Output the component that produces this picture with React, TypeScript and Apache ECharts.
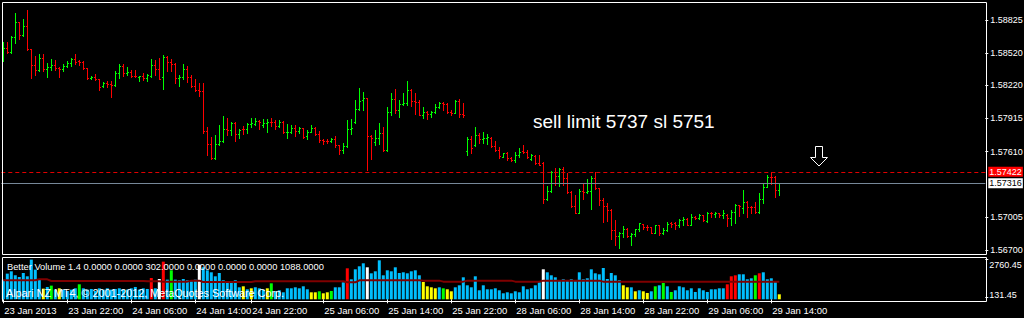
import React, { useEffect, useRef } from 'react';
import * as echarts from 'echarts';

// ---- price bars (M30 OHLC) ----
const opens = [
1.58548,1.58564,1.58527,1.58665,1.58804,1.58687,1.58770,1.58555,1.58409,1.58360,
1.58471,1.58370,1.58394,1.58409,1.58385,1.58370,1.58400,1.58425,1.58465,1.58446,
1.58434,1.58379,1.58287,1.58296,1.58277,1.58215,1.58240,1.58234,1.58225,1.58333,
1.58400,1.58333,1.58348,1.58308,1.58301,1.58305,1.58292,1.58308,1.58407,1.58370,
1.58296,1.58486,1.58437,1.58421,1.58287,1.58301,1.58370,1.58299,1.58215,1.58178,
1.58166,1.57800,1.57677,1.57547,1.57677,1.57710,1.57818,1.57809,1.57871,1.57769,
1.57821,1.57815,1.57864,1.57864,1.57895,1.57855,1.57871,1.57886,1.57880,1.57846,
1.57886,1.57790,1.57793,1.57825,1.57802,1.57830,1.57753,1.57793,1.57825,1.57772,
1.57717,1.57710,1.57705,1.57723,1.57670,1.57621,1.57661,1.57818,1.57883,1.58006,
1.58086,1.58102,1.57753,1.57698,1.57732,1.57781,1.57624,1.57978,1.58093,1.57994,
1.58049,1.58061,1.58176,1.58077,1.58070,1.57948,1.57972,1.57957,1.57975,1.58024,
1.58061,1.58052,1.57978,1.57969,1.58080,1.57954,1.57615,1.57726,1.57670,1.57763,
1.57726,1.57735,1.57735,1.57661,1.57624,1.57559,1.57596,1.57550,1.57532,1.57578,
1.57615,1.57606,1.57538,1.57569,1.57507,1.57501,1.57169,1.57248,1.57424,1.57384,
1.57451,1.57363,1.57236,1.57107,1.57039,1.57248,1.57239,1.57243,1.57363,1.57270,
1.57162,1.57107,1.57070,1.56885,1.56830,1.56860,1.56897,1.56830,1.56848,1.56892,
1.56940,1.56916,1.56910,1.56860,1.56928,1.56860,1.56885,1.56947,1.56947,1.56928,
1.56977,1.56984,1.56934,1.57002,1.56996,1.57021,1.56971,1.57045,1.57033,1.57039,
1.57021,1.57024,1.56996,1.57054,1.57116,1.57086,1.57147,1.57100,1.57095,1.57051,
1.57169,1.57280,1.57377,1.57372,1.57255];
const closes = [
1.58564,1.58532,1.58665,1.58804,1.58687,1.58770,1.58555,1.58409,1.58360,1.58471,
1.58370,1.58394,1.58409,1.58379,1.58370,1.58400,1.58425,1.58465,1.58440,1.58434,
1.58379,1.58287,1.58296,1.58277,1.58209,1.58240,1.58234,1.58225,1.58333,1.58400,
1.58333,1.58348,1.58308,1.58305,1.58305,1.58292,1.58320,1.58407,1.58370,1.58283,
1.58486,1.58437,1.58421,1.58287,1.58301,1.58370,1.58299,1.58215,1.58178,1.58166,
1.57800,1.57677,1.57547,1.57677,1.57710,1.57818,1.57809,1.57871,1.57769,1.57809,
1.57815,1.57864,1.57871,1.57889,1.57880,1.57871,1.57886,1.57880,1.57846,1.57886,
1.57790,1.57793,1.57825,1.57802,1.57830,1.57747,1.57793,1.57825,1.57772,1.57717,
1.57710,1.57705,1.57723,1.57670,1.57621,1.57664,1.57818,1.57830,1.58006,1.58080,
1.58102,1.57753,1.57732,1.57732,1.57781,1.57624,1.57978,1.58093,1.57994,1.58049,
1.58061,1.58176,1.58077,1.58070,1.57948,1.57972,1.57957,1.57975,1.58024,1.58061,
1.58052,1.57978,1.57969,1.58080,1.57954,1.57948,1.57726,1.57643,1.57763,1.57726,
1.57735,1.57740,1.57661,1.57624,1.57569,1.57596,1.57550,1.57532,1.57578,1.57606,
1.57606,1.57559,1.57578,1.57507,1.57486,1.57169,1.57248,1.57424,1.57384,1.57451,
1.57363,1.57236,1.57107,1.57039,1.57248,1.57239,1.57243,1.57363,1.57270,1.57162,
1.57107,1.57070,1.56885,1.56830,1.56860,1.56897,1.56830,1.56848,1.56892,1.56947,
1.56916,1.56910,1.56860,1.56928,1.56860,1.56885,1.56940,1.56940,1.56934,1.56977,
1.56984,1.56934,1.57002,1.56996,1.57021,1.56977,1.57045,1.57039,1.57039,1.57021,
1.57039,1.56996,1.57054,1.57116,1.57107,1.57147,1.57100,1.57095,1.57051,1.57169,
1.57280,1.57377,1.57372,1.57255,1.57316];
const lows = [
1.58449,1.58523,1.58518,1.58610,1.58652,1.58677,1.58548,1.58287,1.58314,1.58357,
1.58357,1.58301,1.58363,1.58363,1.58301,1.58357,1.58394,1.58400,1.58419,1.58409,
1.58370,1.58283,1.58283,1.58271,1.58178,1.58209,1.58203,1.58117,1.58218,1.58289,
1.58308,1.58320,1.58296,1.58296,1.58264,1.58271,1.58264,1.58301,1.58320,1.58277,
1.58191,1.58357,1.58357,1.58246,1.58215,1.58283,1.58252,1.58203,1.58166,1.58123,
1.57784,1.57575,1.57544,1.57544,1.57668,1.57701,1.57766,1.57766,1.57710,1.57735,
1.57772,1.57784,1.57834,1.57858,1.57821,1.57839,1.57793,1.57846,1.57821,1.57834,
1.57784,1.57735,1.57784,1.57753,1.57778,1.57735,1.57726,1.57790,1.57760,1.57701,
1.57680,1.57686,1.57698,1.57649,1.57590,1.57594,1.57655,1.57772,1.57876,1.57994,
1.57994,1.57439,1.57544,1.57670,1.57680,1.57618,1.57618,1.57948,1.57963,1.57932,
1.58037,1.58043,1.58031,1.57957,1.57945,1.57923,1.57913,1.57926,1.57969,1.58009,
1.57996,1.57963,1.57948,1.57963,1.57926,1.57926,1.57578,1.57599,1.57661,1.57692,
1.57686,1.57680,1.57649,1.57615,1.57547,1.57557,1.57532,1.57525,1.57516,1.57562,
1.57594,1.57553,1.57532,1.57495,1.57483,1.57132,1.57162,1.57239,1.57301,1.57294,
1.57301,1.57230,1.57095,1.57039,1.57039,1.57169,1.57230,1.57082,1.57261,1.57113,
1.56962,1.56971,1.56805,1.56746,1.56722,1.56823,1.56823,1.56749,1.56830,1.56873,
1.56892,1.56885,1.56855,1.56855,1.56839,1.56848,1.56879,1.56916,1.56892,1.56916,
1.56931,1.56931,1.56928,1.56989,1.56984,1.56971,1.56962,1.57002,1.57002,1.57002,
1.56996,1.56925,1.56931,1.56952,1.57014,1.57045,1.57002,1.57039,1.57039,1.57039,
1.57137,1.57280,1.57307,1.57193,1.57206];
const highs = [
1.58622,1.58622,1.58677,1.58887,1.58807,1.58832,1.58918,1.58555,1.58493,1.58511,
1.58511,1.58431,1.58462,1.58456,1.58388,1.58419,1.58446,1.58474,1.58511,1.58456,
1.58446,1.58382,1.58308,1.58326,1.58283,1.58255,1.58262,1.58259,1.58357,1.58416,
1.58419,1.58391,1.58363,1.58363,1.58305,1.58333,1.58326,1.58462,1.58456,1.58474,
1.58502,1.58493,1.58462,1.58425,1.58317,1.58419,1.58400,1.58314,1.58277,1.58246,
1.58246,1.57839,1.57747,1.57766,1.57858,1.57938,1.57920,1.57883,1.57883,1.57821,
1.57846,1.57876,1.57920,1.57920,1.57901,1.57911,1.57911,1.57917,1.57901,1.57901,
1.57892,1.57862,1.57855,1.57852,1.57837,1.57830,1.57809,1.57852,1.57839,1.57802,
1.57729,1.57729,1.57735,1.57753,1.57673,1.57686,1.57901,1.57908,1.58086,1.58197,
1.58157,1.58105,1.57760,1.57809,1.57876,1.57839,1.58024,1.58154,1.58185,1.58086,
1.58148,1.58262,1.58185,1.58154,1.58086,1.58019,1.57984,1.57987,1.58049,1.58068,
1.58065,1.58061,1.57994,1.58086,1.58095,1.58061,1.57747,1.57756,1.57839,1.57784,
1.57793,1.57772,1.57747,1.57710,1.57655,1.57599,1.57608,1.57557,1.57608,1.57640,
1.57670,1.57624,1.57587,1.57578,1.57575,1.57516,1.57292,1.57433,1.57461,1.57461,
1.57470,1.57414,1.57248,1.57208,1.57261,1.57317,1.57353,1.57384,1.57421,1.57270,
1.57178,1.57137,1.57076,1.56977,1.56869,1.56922,1.56904,1.56855,1.56892,1.56947,
1.56940,1.56928,1.56910,1.56931,1.56931,1.56904,1.56959,1.56962,1.56959,1.56984,
1.57008,1.56996,1.57033,1.57014,1.57033,1.57021,1.57054,1.57054,1.57054,1.57045,
1.57070,1.57033,1.57070,1.57125,1.57119,1.57255,1.57156,1.57107,1.57141,1.57224,
1.57310,1.57393,1.57421,1.57384,1.57320];

// ---- Better Volume indicator ----
const volumes = [
1357,1771,1932,1656,1541,1817,1587,2737,2047,1357,
736,851,943,667,759,667,575,667,759,1035,
759,667,713,575,759,667,759,667,713,759,
667,667,759,851,667,759,713,1472,759,1403,
2599,1357,2001,1357,1311,1403,1311,1242,1357,2392,
2208,2001,1863,1587,1817,1311,1173,1173,1311,828,
897,690,759,828,759,667,759,1104,552,621,
483,759,759,828,759,897,690,483,483,552,
414,483,575,828,828,1173,2139,1380,2070,2277,
2484,2208,1794,1932,2691,1656,2001,1932,2208,1817,
1863,1794,1932,2001,1656,1196,897,828,759,828,
759,690,552,828,966,1518,966,828,1587,621,
966,690,690,759,621,414,483,414,552,483,
897,690,759,966,1173,2070,1863,1656,1518,1311,
1380,1311,1380,1311,1863,1380,1449,2070,1794,1725,
2162,1403,1817,1656,1311,966,828,828,552,621,
552,437,552,897,966,1127,897,506,621,897,
828,621,759,506,759,621,506,690,690,759,
759,1035,1587,1656,1725,1725,1380,1449,1656,1794,
1863,1380,1449,1242,345];
// b = normal, y = low volume, g = low churn, r = climax, w = churn
const volumeKinds =
  'bbbbbbbbbb' + 'ybgbybbbbg' + 'bbbbbbbbbb' + 'bbbbbbbrbw' + 'rbgbbbbbbw' +
  'bbbbbbbbbb' + 'ybybbbygbb' + 'bbbbbbbyyg' + 'yygbbbrbbb' + 'bwbbbbbbbb' +
  'bbbbbyyyyb' + 'gyybbbbbbb' + 'bbbbbbbbbb' + 'bbbbbwbbbb' + 'bbbbbbbbbb' +
  'bbbbbyybyb' + 'yybgbgbgbb' + 'bbbbbbbbbb' + 'brrrbbbbgr' + 'bbbby';
const volumeAvg = [
1311,1311,1311,1311,1311,1311,1311,1311,1311,1380,
1380,1380,1265,1265,1265,1265,1265,1265,1265,1265,
1265,1265,1265,1265,1265,1265,1265,1265,1265,1265,
1265,1265,1265,1265,1265,1265,1242,1242,1242,1242,
1219,1219,1219,1219,1219,1219,1219,1288,1288,1288,
1196,1196,1196,1196,1196,1196,1196,1196,1196,1196,
1196,1196,1196,1242,1242,1242,1242,1242,1242,1242,
1242,1242,1242,1242,1242,1242,1242,1242,1242,1242,
1242,1242,1242,1242,1242,1242,1173,1173,1173,1311,
1311,1311,1311,1311,1311,1311,1311,1311,1311,1311,
1311,1311,1311,1311,1311,1288,1288,1288,1288,1288,
1219,1219,1219,1219,1219,1219,1288,1288,1288,1288,
1288,1288,1288,1288,1288,1288,1288,1288,1219,1219,
1219,1219,1219,1219,1219,1288,1288,1288,1288,1288,
1288,1288,1288,1288,1288,1288,1288,1288,1288,1288,
1219,1219,1219,1219,1219,1219,1219,1219,1219,1219,
1219,1219,1219,1219,1219,1219,1219,1219,1219,1219,
1219,1219,1219,1219,1219,1219,1219,1219,1219,1219,
1219,1219,1219,1219,1219,1219,1219,1219,1219,1219,
1219,1219,1219,1219,1219];

// ---- axes ----
const priceTicks = [1.567, 1.57005, 1.5761, 1.57915, 1.5822, 1.5852, 1.58825];
const volumeTicks = [131.45, 2760.45];
const timeTickIndex = [0, 16, 32, 48, 62, 80, 96, 112, 128, 144, 160, 176, 192];
const timeTickText = ['23 Jan 2013', '23 Jan 22:00', '24 Jan 06:00', '24 Jan 14:00', '24 Jan 22:00',
  '25 Jan 06:00', '25 Jan 14:00', '25 Jan 22:00', '28 Jan 06:00', '28 Jan 14:00', '28 Jan 22:00',
  '29 Jan 06:00', '29 Jan 14:00'];
const slotCount = 246; // bar slots across the chart (incl. the empty right margin)
const askPrice = 1.57422;
const bidPrice = 1.57316;

const FONT = '"Liberation Sans", Arial, sans-serif';
const UP = '#00ff00';
const DOWN = '#ff0000';
const KIND_COLORS: Record<string, string> = { b: '#00bfff', y: '#ffff00', g: '#00ff00', r: '#ff0000', w: '#ffffff' };

export default function App() {
  const ref = useRef<HTMLDivElement>(null);
  useEffect(() => {
    if (!ref.current) return;
    const chart = echarts.init(ref.current, null, { renderer: 'svg' });
    const slots = Array.from({ length: slotCount }, (_, i) => String(i));
    const tickSet = new Set(timeTickIndex);
    const ohlc = opens.map((o, i) => [i, o, closes[i], lows[i], highs[i]]);

    chart.setOption({
      animation: false,
      backgroundColor: '#000',
      grid: [
        { left: 1.3, top: 2, width: 984, height: 252, show: false, containLabel: false, outerBoundsMode: 'none' },
        { left: 1.3, top: 259, width: 984, height: 40.3, show: false, containLabel: false, outerBoundsMode: 'none' },
      ],
      xAxis: [
        { type: 'category', gridIndex: 0, data: slots, show: false, boundaryGap: true },
        {
          type: 'category', gridIndex: 1, data: slots, boundaryGap: true, offset: 2.7,
          axisLine: { show: false },
          axisTick: {
            show: true, alignWithLabel: true, length: 4,
            interval: (i: number) => tickSet.has(i),
            lineStyle: { color: '#fff' },
          },
          axisLabel: {
            interval: (i: number) => tickSet.has(i),
            formatter: (_v: string, i: number) => timeTickText[timeTickIndex.indexOf(i)] ?? '',
            color: '#fff', fontFamily: FONT, fontSize: 9.5, align: 'left', margin: 3,
            padding: [0, 0, 0, 1], hideOverlap: false,
          },
          splitLine: { show: false },
        },
      ],
      yAxis: [
        {
          type: 'value', gridIndex: 0, position: 'right', min: 1.5666304, max: 1.589913,
          axisLine: { show: false }, splitLine: { show: false },
          axisTick: { show: true, customValues: priceTicks, length: 3, lineStyle: { color: '#fff' } },
          axisLabel: {
            customValues: priceTicks, formatter: (v: number) => v.toFixed(5),
            color: '#fff', fontFamily: FONT, fontSize: 9, margin: 5,
          },
        },
        {
          type: 'value', gridIndex: 1, position: 'right', min: 0, max: 2781,
          axisLine: { show: false }, splitLine: { show: false },
          axisTick: { show: true, customValues: volumeTicks, length: 3, lineStyle: { color: '#fff' } },
          axisLabel: {
            customValues: volumeTicks,
            formatter: (v: number) => (v > 1000 ? `{a|${v.toFixed(2)}}` : `{b|${v.toFixed(2)}}`),
            color: '#fff', fontFamily: FONT, fontSize: 9, margin: 4,
            rich: {
              a: { color: '#fff', fontFamily: FONT, fontSize: 9, padding: [11, 0, 0, 0] },
              b: { color: '#fff', fontFamily: FONT, fontSize: 9, padding: [0, 0, 5, 0] },
            },
          },
        },
      ],
      series: [
        {
          type: 'custom', xAxisIndex: 0, yAxisIndex: 0, data: ohlc, clip: false,
          encode: { x: 0, y: [1, 2, 3, 4] },
          renderItem: (_p: any, api: any) => {
            const idx = api.value(0);
            const o = api.value(1), c = api.value(2), l = api.value(3), h = api.value(4);
            const ph = api.coord([idx, h]);
            const pl = api.coord([idx, l]);
            const po = api.coord([idx, o]);
            const pc = api.coord([idx, c]);
            const x = Math.floor(ph[0]);
            const col = c >= o ? UP : DOWN;
            const yT = Math.round(ph[1]);
            const yB = Math.round(pl[1]);
            return {
              type: 'group',
              children: [
                { type: 'rect', shape: { x, y: yT, width: 1, height: Math.max(1, yB - yT + 1) }, style: { fill: col } },
                { type: 'rect', shape: { x: x - 1, y: Math.round(po[1]), width: 1, height: 1 }, style: { fill: col } },
                { type: 'rect', shape: { x: x + 1, y: Math.round(pc[1]), width: 1, height: 1 }, style: { fill: col } },
              ],
            };
          },
        },
        {
          type: 'line', xAxisIndex: 0, yAxisIndex: 0, data: [[194, bidPrice]], showSymbol: false,
          lineStyle: { width: 0 }, silent: true,
          markLine: {
            silent: true, symbol: ['none', 'none'], precision: 5,
            data: [
              {
                yAxis: askPrice,
                lineStyle: { color: '#e00000', type: [4, 3], width: 1 },
                label: {
                  show: true, position: 'end', distance: 3,
                  formatter: (p: any) => Number(p.value).toFixed(5),
                  color: '#fff', backgroundColor: '#ff0000', padding: [1, 1, 0, 1],
                  fontFamily: FONT, fontSize: 9,
                },
              },
              {
                yAxis: bidPrice,
                lineStyle: { color: '#778899', type: 'solid', width: 1 },
                label: {
                  show: true, position: 'end', distance: 3,
                  formatter: (p: any) => Number(p.value).toFixed(5),
                  color: '#000', backgroundColor: '#ffffff', padding: [1, 1, 0, 1],
                  fontFamily: FONT, fontSize: 9,
                },
              },
            ],
          },
        },
        {
          type: 'bar', xAxisIndex: 1, yAxisIndex: 1, barWidth: 3,
          data: volumes.map((v, i) => ({ value: v, itemStyle: { color: KIND_COLORS[volumeKinds[i]] } })),
        },
        {
          type: 'line', xAxisIndex: 1, yAxisIndex: 1, data: volumeAvg, showSymbol: false,
          lineStyle: { color: '#800000', width: 2 }, z: 5,
        },
      ],
      graphic: [
        { type: 'rect', z: 100, silent: true, shape: { x: 2.5, y: 2.5, width: 984, height: 252 }, style: { fill: 'transparent', stroke: '#fff', lineWidth: 1 } },
        { type: 'rect', z: 100, silent: true, shape: { x: 2.5, y: 257.5, width: 984, height: 44 }, style: { fill: 'transparent', stroke: '#fff', lineWidth: 1 } },
        {
          type: 'text', z: 100, x: 533, y: 121,
          style: { text: 'sell limit 5737 sl 5751', fill: '#fff', fontSize: 19, fontFamily: FONT, verticalAlign: 'middle' },
        },
        {
          type: 'polygon', z: 100,
          shape: { points: [[815.5, 146.5], [822.5, 146.5], [822.5, 157.5], [827.5, 157.5], [819, 166], [810.5, 157.5], [815.5, 157.5]] },
          style: { fill: '#000', stroke: '#fff', lineWidth: 1 },
        },
        {
          type: 'text', z: 100, x: 7, y: 266.5,
          style: { text: 'Better Volume 1.4 0.0000 0.0000 302.0000 0.0000 0.0000 0.0000 1088.0000', fill: '#fff', fontSize: 9.3, fontFamily: FONT, verticalAlign: 'middle' },
        },
        {
          type: 'text', z: 100, x: 6, y: 292.5,
          style: { text: 'Alpari NZ MT4, © 2001-2012, MetaQuotes Software Corp.', fill: '#fff', fontSize: 10.8, fontFamily: FONT, verticalAlign: 'middle' },
        },
      ],
    });
    return () => chart.dispose();
  }, []);
  return (
    <div
      ref={ref}
      style={{ position: 'fixed', left: 0, top: 0, width: 1024, height: 318, background: '#000' }}
    />
  );
}
